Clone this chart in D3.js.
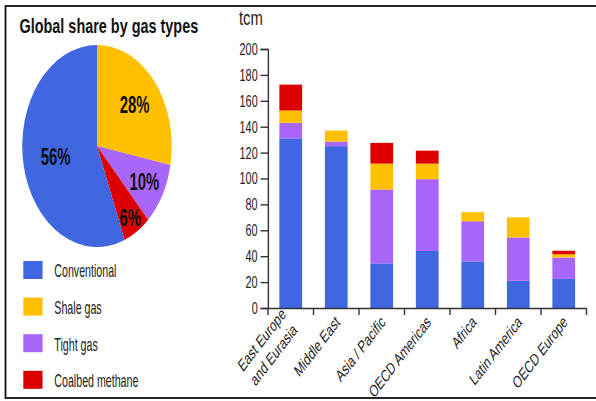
<!DOCTYPE html>
<html>
<head>
<meta charset="utf-8">
<script src="https://cdn.jsdelivr.net/npm/d3@7"></script>
<style>
  html, body { margin: 0; padding: 0; background: #fff; }
  svg { display: block; font-family: "Liberation Sans", Arial, sans-serif; }
</style>
</head>
<body>
<div id="chart"></div>
<script>
// Recoverable gas resources by region (tcm), stacked by gas type
const regions = ["East Europe\nand Eurasia", "Middle East", "Asia / Pacific", "OECD Americas", "Africa", "Latin America", "OECD Europe"];
const conventional   = [131, 125, 34.5, 44, 36, 21, 22.5];
const tightGas       = [12, 3.5, 57, 55.5, 31, 33.5, 16.5];
const shaleGas       = [9.5, 8.5, 20, 12, 7, 15.5, 2.5];
const coalbedMethane = [20, 0, 16, 10, 0, 0, 2.7];
const yTicks = [0, 20, 40, 60, 80, 100, 120, 140, 160, 180, 200];
const yUnit = "tcm";

// Global share by gas type (%), clockwise from twelve o'clock
const pieTypes  = ["Shale gas", "Tight gas", "Coalbed methane", "Conventional"];
const pieShares = [28, 10, 6, 56];

const legendTypes = ["Conventional", "Shale gas", "Tight gas", "Coalbed methane"];
const pieTitle = "Global share by gas types";

const gasColors = {
  "Conventional": "#4066E2",
  "Shale gas": "#FFC000",
  "Tight gas": "#A966FA",
  "Coalbed methane": "#DD0000"
};

const W = 596, H = 401;
const SX = 0.74;          // horizontal compression of the whole drawing
const NARROW = 0.84;      // condensed face for labels

const svg = d3.select("#chart").append("svg").attr("width", W).attr("height", H);
svg.append("rect").attr("width", W).attr("height", H).attr("fill", "#fff");
svg.append("rect")
  .attr("x", 5.5).attr("y", 6).attr("width", W).attr("height", 392)
  .attr("fill", "none").attr("stroke", "#111").attr("stroke-width", 1.8);

const g = svg.append("g").attr("transform", `scale(${SX},1)`);

// ---- Pie ----
g.append("text")
  .attr("x", 19.5 / SX).attr("y", 33.5)
  .attr("font-size", 19.5).attr("font-weight", "bold").attr("fill", "#111")
  .text(pieTitle);

const pieCx = 97 / SX, pieCy = 146, pieR = 101;
const pie = d3.pie().sort(null).value(d => d.share);
const pieData = pie(pieTypes.map((t, i) => ({ type: t, share: pieShares[i] })));
const arc = d3.arc().innerRadius(0).outerRadius(pieR);
const pg = g.append("g").attr("transform", `translate(${pieCx},${pieCy})`);
pg.selectAll("path").data(pieData).join("path")
  .attr("d", arc)
  .attr("fill", d => gasColors[d.data.type]);

const labelRadius = { "Shale gas": 66, "Tight gas": 73, "Coalbed methane": 84, "Conventional": 57 };
pg.selectAll("text").data(pieData).join("text")
  .attr("transform", d => {
    const a = (d.startAngle + d.endAngle) / 2;
    const r = labelRadius[d.data.type];
    return `translate(${Math.sin(a) * r},${-Math.cos(a) * r}) scale(${NARROW},1)`;
  })
  .attr("text-anchor", "middle").attr("dy", "0.36em")
  .attr("font-size", 24).attr("font-weight", "bold").attr("fill", "#111")
  .text(d => d.data.share + "%");

// ---- Legend ----
const lg = g.append("g").selectAll("g").data(legendTypes).join("g")
  .attr("transform", (d, i) => `translate(0,${261 + i * 36.6})`);
lg.append("rect")
  .attr("x", 31.5).attr("y", 0).attr("width", 26).attr("height", 18)
  .attr("fill", d => gasColors[d]);
lg.append("text")
  .attr("transform", `translate(73.4,16.4) scale(0.8,1)`)
  .attr("font-size", 18).attr("fill", "#222")
  .text(d => d);

// ---- Stacked bars ----
const x = d3.scaleBand().domain(regions)
  .range([268 / SX, 586.5 / SX]).paddingInner(0.5).paddingOuter(0.25);
const y = d3.scaleLinear().domain([0, 200]).range([308, 49]);

const stackKeys = ["Conventional", "Tight gas", "Shale gas", "Coalbed methane"];
const rows = regions.map((r, i) => ({
  region: r,
  "Conventional": conventional[i],
  "Tight gas": tightGas[i],
  "Shale gas": shaleGas[i],
  "Coalbed methane": coalbedMethane[i]
}));
const series = d3.stack().keys(stackKeys)(rows);

g.append("g").selectAll("g").data(series).join("g")
  .attr("fill", s => gasColors[s.key])
  .selectAll("rect").data(s => s).join("rect")
  .attr("x", d => x(d.data.region))
  .attr("width", x.bandwidth())
  .attr("y", d => y(d[1]))
  .attr("height", d => y(d[0]) - y(d[1]));

// y axis
const ya = g.append("g")
  .attr("transform", `translate(${x.range()[0]},0)`)
  .call(d3.axisLeft(y).tickValues(yTicks).tickSize(10).tickPadding(4))
  .attr("font-family", null).attr("font-size", null);
ya.selectAll(".domain, .tick line")
  .attr("stroke", "#333").attr("stroke-width", 1.4).attr("vector-effect", "non-scaling-stroke");
ya.selectAll(".tick text").each(function () {
  const t = d3.select(this);
  const tx = +t.attr("x");
  t.attr("x", null)
    .attr("transform", `translate(${tx},0) scale(0.86,1)`)
    .attr("font-size", 17).attr("fill", "#222");
});

g.append("text")
  .attr("x", 239 / SX).attr("y", 25.5)
  .attr("font-size", 20).attr("fill", "#222")
  .text(yUnit);

// x axis
const xa = g.append("g")
  .attr("transform", `translate(0,${y(0)})`)
  .call(d3.axisBottom(x).tickSize(0).tickSizeOuter(0).tickPadding(0))
  .attr("font-family", null).attr("font-size", null);
xa.select(".domain")
  .attr("stroke", "#333").attr("stroke-width", 1.4).attr("vector-effect", "non-scaling-stroke");
xa.selectAll(".tick line").remove();
xa.append("g").selectAll("line")
  .data(d3.range(regions.length + 1))
  .join("line")
  .attr("x1", i => x.range()[0] + i * x.step())
  .attr("x2", i => x.range()[0] + i * x.step())
  .attr("y1", 0).attr("y2", 7)
  .attr("stroke", "#333").attr("stroke-width", 1.4).attr("vector-effect", "non-scaling-stroke");

xa.selectAll(".tick text").each(function (d) {
  const t = d3.select(this);
  const lines = d.split("\n");
  const lh = 1.3;
  t.text(null)
    .attr("y", null).attr("dy", null)
    .attr("text-anchor", "end")
    .attr("font-size", 17).attr("fill", "#222")
    .attr("transform", `translate(${lines.length > 1 ? -2 : 2},11) rotate(-44) scale(0.88,1)`);
  lines.forEach((ln, k) => {
    t.append("tspan")
      .attr("x", 0)
      .attr("dy", k === 0 ? `${0.35 - (lines.length - 1) * lh / 2}em` : `${lh}em`)
      .text(ln);
  });
});
</script>
</body>
</html>
